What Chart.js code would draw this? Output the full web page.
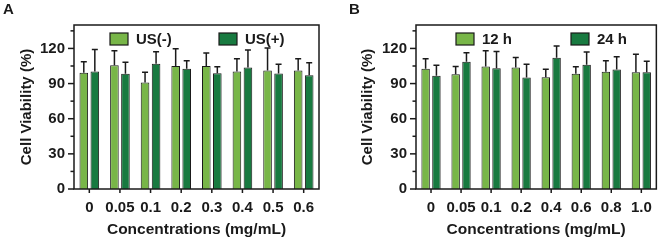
<!DOCTYPE html>
<html lang="en">
<head>
  <meta charset="UTF-8">
  <title>Cell Viability</title>
  <script src="https://cdn.jsdelivr.net/npm/chart.js@4.4.1/dist/chart.umd.min.js"></script>
  <style>
    html, body { margin: 0; padding: 0; background: #fff; }
    .wrap { position: relative; width: 662px; height: 241px; overflow: hidden; }
    .panel { position: absolute; top: 0; width: 331px; height: 241px; }
    #panelA { left: 0; }
    #panelB { left: 331px; }
  </style>
</head>
<body>
  <div class="wrap">
    <div class="panel" id="panelA"><canvas id="chartA" width="331" height="241"></canvas></div>
    <div class="panel" id="panelB"><canvas id="chartB" width="331" height="241"></canvas></div>
  </div>

  <script>
    // panel A - ultrasound
    const catsA = ['0', '0.05', '0.1', '0.2', '0.3', '0.4', '0.5', '0.6'];
    const usMinus = [99.2, 105.7, 90.9, 105.1, 105.1, 100.3, 101.1, 101.1];
    const usMinusErr = [9.4, 12.3, 8.8, 14.6, 10.9, 10.8, 19.2, 10.0];
    const usPlus = [100.3, 98.3, 106.9, 102.6, 98.9, 103.7, 98.6, 97.1];
    const usPlusErr = [18.8, 10.0, 10.2, 6.8, 5.4, 14.9, 8.0, 10.6];

    // panel B - incubation time
    const catsB = ['0', '0.05', '0.1', '0.2', '0.4', '0.6', '0.8', '1.0'];
    const h12 = [102.6, 98.0, 104.6, 103.7, 95.4, 98.3, 100.0, 99.7];
    const h12Err = [8.5, 6.6, 13.4, 8.6, 6.9, 6.0, 9.4, 15.4];
    const h24 = [96.6, 108.6, 103.1, 95.1, 112.0, 106.0, 102.0, 99.7];
    const h24Err = [9.1, 7.7, 14.3, 11.5, 10.0, 10.9, 10.9, 9.4];

    const yTicks = [0, 30, 60, 90, 120];
    const yMax = 140;

    const LIGHT = '#78b648';
    const DARK = '#187a40';
    const INK = '#1a1a1a';
    const FONT = '"Liberation Sans", Arial, sans-serif';

    // frame, axis ticks, error bars, legend and panel letter
    const decorPlugin = {
      id: 'decor',
      afterDatasetsDraw(chart) {
        const ctx = chart.ctx;
        const y = chart.scales.y;
        ctx.save();
        ctx.strokeStyle = INK;
        ctx.lineWidth = 1.5;
        chart.data.datasets.forEach((ds, i) => {
          const meta = chart.getDatasetMeta(i);
          meta.data.forEach((bar, j) => {
            const top = y.getPixelForValue(ds.data[j] + ds.err[j]);
            ctx.beginPath();
            ctx.moveTo(bar.x, bar.y);
            ctx.lineTo(bar.x, top);
            ctx.moveTo(bar.x - 3, top);
            ctx.lineTo(bar.x + 3, top);
            ctx.stroke();
          });
        });
        ctx.restore();
      },
      afterDraw(chart) {
        const ctx = chart.ctx;
        const a = chart.chartArea;
        const opts = chart.options.plugins.decor;
        const y = chart.scales.y;
        const x = chart.scales.x;
        ctx.save();
        ctx.strokeStyle = INK;
        ctx.lineWidth = 1.5;
        ctx.strokeRect(a.left, a.top, a.right - a.left, a.bottom - a.top);

        // y ticks: major every 30, minor every 15
        for (let v = 0; v <= yMax; v += 15) {
          const py = y.getPixelForValue(v);
          const len = yTicks.includes(v) ? 6 : 3.5;
          ctx.beginPath();
          ctx.moveTo(a.left, py);
          ctx.lineTo(a.left - len, py);
          ctx.stroke();
        }
        // x ticks at category centres
        x.ticks.forEach((t, i) => {
          const px = x.getPixelForTick(i);
          ctx.beginPath();
          ctx.moveTo(px, a.bottom);
          ctx.lineTo(px, a.bottom + 4);
          ctx.stroke();
        });

        // legend
        ctx.font = 'bold 15px ' + FONT;
        ctx.textBaseline = 'middle';
        chart.data.datasets.forEach((ds, i) => {
          const bx = a.left + opts.legendX[i];
          const by = a.top + 8;
          ctx.fillStyle = ds.backgroundColor;
          ctx.fillRect(bx, by, 18, 12);
          ctx.lineWidth = 1.2;
          ctx.strokeRect(bx, by, 18, 12);
          ctx.fillStyle = INK;
          ctx.fillText(ds.label, bx + 26, by + 6.5);
        });

        // panel letter
        ctx.font = 'bold 15px ' + FONT;
        ctx.textBaseline = 'alphabetic';
        ctx.fillText(opts.letter, opts.letterX, 13.5);
        ctx.restore();
      }
    };

    function makeChart(id, cats, series, cfg) {
      const ctx = document.getElementById(id).getContext('2d');
      return new Chart(ctx, {
        type: 'bar',
        data: {
          labels: cats,
          datasets: series.map(s => ({
            label: s.label,
            data: s.data,
            err: s.err,
            backgroundColor: s.color,
            borderColor: INK,
            borderWidth: 1,
            categoryPercentage: 0.72,
            barPercentage: 0.78
          }))
        },
        options: {
          responsive: false,
          animation: false,
          layout: { padding: { top: 25, right: cfg.padRight, bottom: 0, left: 0 } },
          plugins: {
            legend: { display: false },
            tooltip: { enabled: false },
            decor: { legendX: cfg.legendX, letter: cfg.letter, letterX: cfg.letterX }
          },
          scales: {
            x: {
              grid: { display: false, drawTicks: false },
              border: { display: false },
              ticks: {
                color: INK, padding: 10, maxRotation: 0, autoSkip: false,
                font: { family: FONT, size: 15, weight: 'bold' }
              },
              title: {
                display: true, text: 'Concentrations (mg/mL)', color: INK,
                padding: { top: 0, bottom: 2 },
                font: { family: FONT, size: 15.5, weight: 'bold' }
              },
              afterFit(scale) { scale.height = 52; }
            },
            y: {
              min: 0,
              max: yMax,
              grid: { display: false, drawTicks: false },
              border: { display: false },
              ticks: {
                stepSize: 15,
                includeBounds: false,
                color: INK,
                padding: 9,
                font: { family: FONT, size: 15, weight: 'bold' },
                callback: v => (yTicks.includes(v) ? v : '')
              },
              title: {
                display: true, text: 'Cell Viability (%)', color: INK,
                padding: { top: cfg.titlePad, bottom: 0 },
                font: { family: FONT, size: 15, weight: 'bold' }
              },
              afterFit(scale) { scale.width = cfg.axisWidth; }
            }
          }
        },
        plugins: [decorPlugin]
      });
    }

    makeChart('chartA', catsA, [
      { label: 'US(-)', data: usMinus, err: usMinusErr, color: LIGHT },
      { label: 'US(+)', data: usPlus, err: usPlusErr, color: DARK }
    ], { axisWidth: 74, padRight: 12, titlePad: 18, legendX: [36, 145], letter: 'A', letterX: 3 });

    makeChart('chartB', catsB, [
      { label: '12 h', data: h12, err: h12Err, color: LIGHT },
      { label: '24 h', data: h24, err: h24Err, color: DARK }
    ], { axisWidth: 85, padRight: 4, titlePad: 27.5, legendX: [40, 155], letter: 'B', letterX: 18 });
  </script>
</body>
</html>
